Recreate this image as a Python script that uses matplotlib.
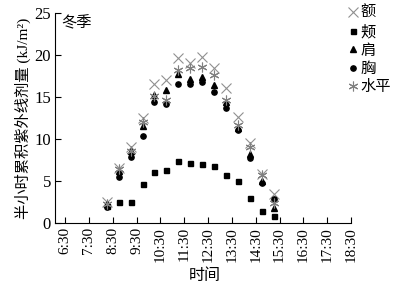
import numpy as np
import matplotlib
matplotlib.use("Agg")
import matplotlib.pyplot as plt

plt.rcParams['font.family'] = ['Liberation Serif', 'Noto Sans CJK SC', 'DejaVu Sans']

# time of each half-hour (midpoint, hours)
horas = [8.25, 8.75, 9.25, 9.75, 10.25, 10.75, 11.25, 11.75,
         12.25, 12.75, 13.25, 13.75, 14.25, 14.75, 15.25]

e_frente = [2.5, 6.6, 9.0, 12.5, 16.6, 17.0, 19.6, 19.0, 19.8, 18.4, 16.1, 12.6, 9.5, 5.9, 3.5]
e_mejilla = [2.0, 2.5, 2.5, 4.6, 6.1, 6.3, 7.4, 7.2, 7.0, 6.8, 5.7, 5.0, 3.0, 1.4, 0.9]
e_hombro = [2.3, 6.2, 8.6, 11.5, 15.3, 15.8, 17.8, 17.2, 17.4, 16.4, 14.4, 11.3, 8.2, 5.0, 1.8]
e_pecho = [1.9, 5.5, 7.9, 10.4, 14.4, 14.2, 16.6, 16.6, 16.8, 15.6, 13.7, 11.1, 7.7, 4.8, 2.9]
e_horiz = [2.3, 6.4, 8.6, 12.0, 15.1, 14.7, 18.2, 18.4, 18.6, 17.6, 14.6, 11.7, 9.0, 5.7, 2.4]

nombres = ['额', '颊', '肩', '胸', '水平']

xticks = np.arange(6.5, 18.6, 1.0)
xtick_labels = ['%d:30' % int(h) for h in xticks]

fig = plt.figure(figsize=(3.99, 2.89), dpi=100)
ax = fig.add_axes([0.138, 0.228, 0.742, 0.727])

ax.plot(horas, e_frente, 'x', color='#909090', ms=6.5, mew=0.8, label=nombres[0])
ax.plot(horas, e_mejilla, 's', color='black', ms=3.6, label=nombres[1])
ax.plot(horas, e_hombro, '^', color='black', ms=3.8, label=nombres[2])
ax.plot(horas, e_pecho, 'o', color='black', ms=3.8, label=nombres[3])
ax.plot(horas, e_horiz, marker=(6, 2, 0), ls='none', color='#808080', ms=7, mew=0.8, label=nombres[4])

ax.set_xlim(6.08, 18.5)
ax.set_ylim(0, 25)
ax.set_xticks(xticks)
ax.set_xticklabels(xtick_labels, rotation=90, fontsize=11)
ax.set_yticks([0, 5, 10, 15, 20, 25])
ax.tick_params(axis='y', labelsize=12, direction='in', length=4, width=0.8, pad=3)
ax.tick_params(axis='x', direction='in', length=4, width=0.8, pad=3)
ax.spines['top'].set_visible(False)
ax.spines['right'].set_visible(False)

fig.text(0.514, 1 - 276 / 289, '时间', fontsize=11.5, ha='center', va='center')
ax.set_ylabel('半小时累积紫外线剂量 (kJ/m²)', fontsize=11, labelpad=2)
ax.text(6.35, 24.7, '冬季', fontsize=11, va='top', ha='left')

ax.legend(loc='upper left', bbox_to_anchor=(0.985, 1.04), frameon=False,
          fontsize=11, handlelength=0.6, handletextpad=0.2,
          labelspacing=0.3, borderpad=0.1, borderaxespad=0.0)

plt.savefig('out.png', dpi=100)
